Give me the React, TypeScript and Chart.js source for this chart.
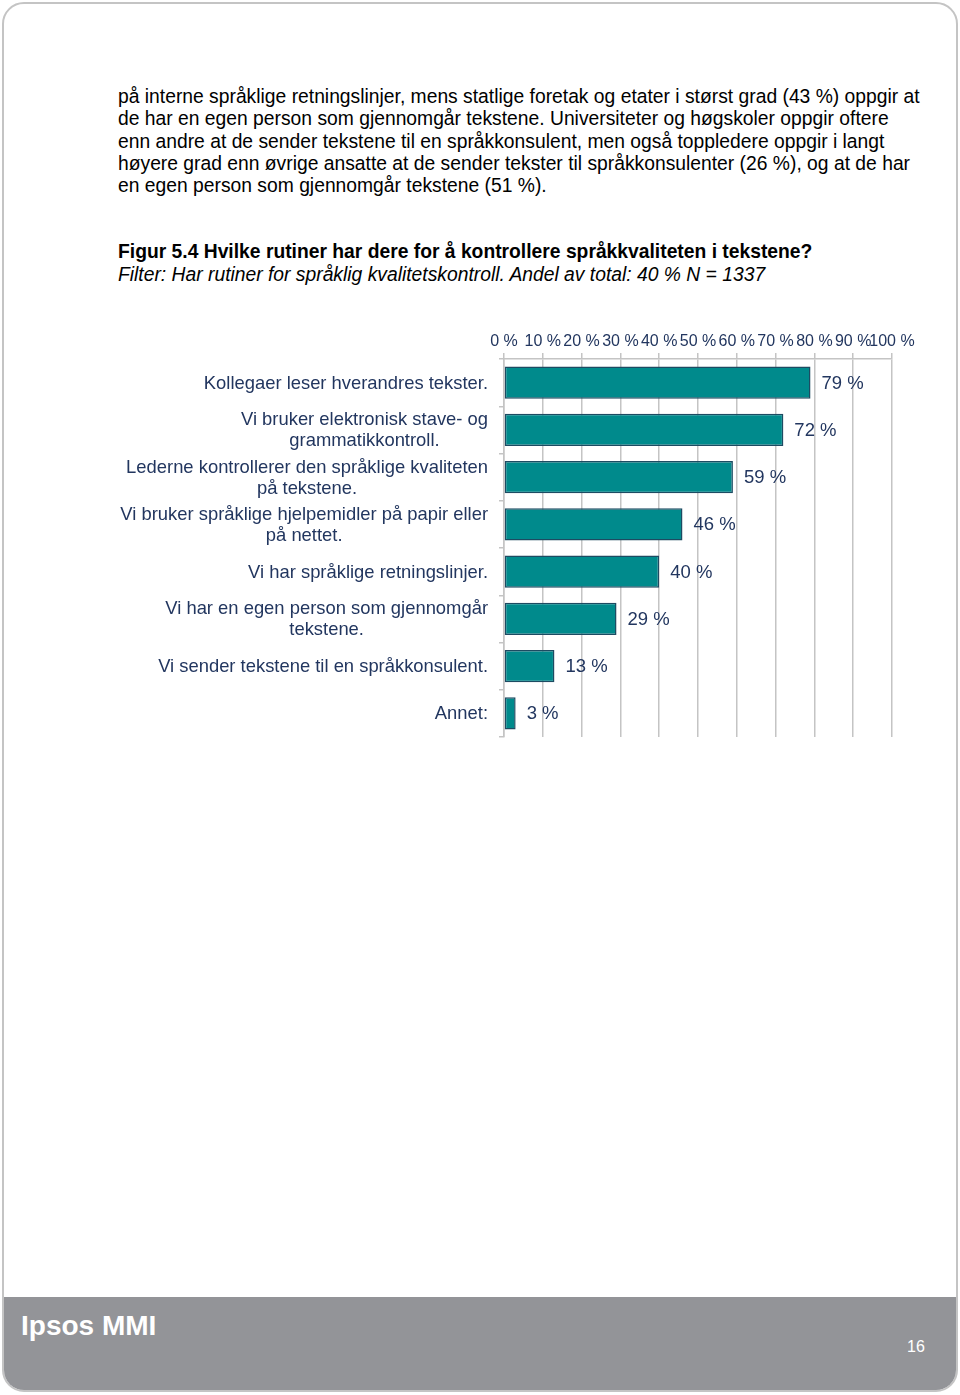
import React, { useEffect, useRef } from "react";
import { Chart, registerables } from "chart.js";

Chart.register(...registerables);

const categories: string[][] = [
  ["Kollegaer leser hverandres tekster."],
  ["Vi bruker elektronisk stave- og", "grammatikkontroll."],
  ["Lederne kontrollerer den språklige kvaliteten", "på tekstene."],
  ["Vi bruker språklige hjelpemidler på papir eller", "på nettet."],
  ["Vi har språklige retningslinjer."],
  ["Vi har en egen person som gjennomgår", "tekstene."],
  ["Vi sender tekstene til en språkkonsulent."],
  ["Annet:"],
];
const values: number[] = [79, 72, 59, 46, 40, 29, 13, 3];
const xTicks: number[] = [0, 10, 20, 30, 40, 50, 60, 70, 80, 90, 100];

const paragraphLines: string[] = [
  "på interne språklige retningslinjer, mens statlige foretak og etater i størst grad (43 %) oppgir at",
  "de har en egen person som gjennomgår tekstene. Universiteter og høgskoler oppgir oftere",
  "enn andre at de sender tekstene til en språkkonsulent, men også toppledere oppgir i langt",
  "høyere grad enn øvrige ansatte at de sender tekster til språkkonsulenter (26 %), og at de har",
  "en egen person som gjennomgår tekstene (51 %).",
];
const figTitle = "Figur 5.4 Hvilke rutiner har dere for å kontrollere språkkvaliteten i tekstene?";
const figSubtitle = "Filter: Har rutiner for språklig kvalitetskontroll. Andel av total: 40 % N = 1337";

const FONT = "'Liberation Sans', Arial, Helvetica, sans-serif";
const NAVY = "#22365f";

function BarChart() {
  const ref = useRef<HTMLCanvasElement | null>(null);
  useEffect(() => {
    if (!ref.current) return;
    const labelPlugin = {
      id: "labelsPlugin",
      afterDraw(chart: any) {
        const ctx = chart.ctx;
        const meta = chart.getDatasetMeta(0);
        const yScale = chart.scales.y;
        ctx.save();
        ctx.fillStyle = NAVY;
        ctx.textBaseline = "middle";
        // value labels
        ctx.font = `18.5px ${FONT}`;
        ctx.textAlign = "left";
        meta.data.forEach((bar: any, i: number) => {
          ctx.fillText(`${values[i]} %`, bar.x + 11, bar.y + 1);
        });
        // category labels
        ctx.font = `18.4px ${FONT}`;
        ctx.textAlign = "center";
        const rightEdge = chart.chartArea.left - 16;
        const lh = 21;
        categories.forEach((lines, i) => {
          const yc = yScale.getPixelForValue(i);
          const maxW = Math.max(...lines.map((l) => ctx.measureText(l).width));
          const cx = rightEdge - maxW / 2;
          lines.forEach((l, j) => {
            ctx.fillText(l, cx, yc + (j - (lines.length - 1) / 2) * lh + 1);
          });
        });
        ctx.restore();
      },
    };
    const chart = new Chart(ref.current, {
      type: "bar",
      data: {
        labels: categories.map((c) => c.join(" ")),
        datasets: [
          {
            data: values,
            backgroundColor: "#008a8c",
            borderColor: "#1d4b62",
            borderWidth: 1.5,
            borderSkipped: false,
            categoryPercentage: 1,
            barPercentage: 0.68,
          },
        ],
      },
      options: {
        indexAxis: "y",
        animation: false,
        responsive: false,
        maintainAspectRatio: false,
        layout: { padding: { left: 0, right: 68, top: 0, bottom: 3 } },
        plugins: { legend: { display: false }, tooltip: { enabled: false } },
        scales: {
          x: {
            position: "top",
            min: 0,
            max: 100,
            afterBuildTicks: (scale: any) => {
              scale.ticks = xTicks.map((v) => ({ value: v }));
            },
            afterFit: (scale: any) => {
              scale.height = 39;
            },
            ticks: {
              autoSkip: false,
              maxRotation: 0,
              padding: 2,
              color: NAVY,
              font: { family: FONT, size: 16 },
              callback: (v: any) => `${v} %`,
            },
            grid: { color: "#c4c4c4", lineWidth: 1.5, drawTicks: true, tickLength: 6 },
            border: { display: true, color: "#c4c4c4", width: 1.5 },
          },
          y: {
            afterFit: (scale: any) => {
              scale.width = 504;
            },
            ticks: { display: false },
            grid: { drawOnChartArea: false, drawTicks: true, tickLength: 5, color: "#c4c4c4", lineWidth: 1.5 },
            border: { display: true, color: "#c4c4c4", width: 1.5 },
          },
        },
      },
      plugins: [labelPlugin],
    } as any);
    return () => chart.destroy();
  }, []);
  return (
    <canvas
      ref={ref}
      width={960}
      height={420}
      style={{ position: "absolute", left: 0, top: 320, width: 960, height: 420 }}
    />
  );
}

export default function App() {
  return (
    <div style={{ position: "absolute", left: 0, top: 0, width: 960, height: 1395, background: "#fff", fontFamily: FONT }}>
      <div
        style={{
          position: "absolute",
          left: 2,
          top: 2,
          width: 956,
          height: 1390,
          boxSizing: "border-box",
          border: "2px solid #c4c4c4",
          borderRadius: 22,
          overflow: "hidden",
        }}
      >
        <div
          style={{
            position: "absolute",
            left: 0,
            right: 0,
            top: 1293,
            bottom: 0,
            background: "#939498",
          }}
        />
      </div>
      <div style={{ position: "absolute", left: 118, top: 86, color: "#000", fontSize: 19.3, lineHeight: "22.3px", whiteSpace: "nowrap" }}>
        {paragraphLines.map((l, i) => (
          <div key={i}>{l}</div>
        ))}
      </div>
      <div style={{ position: "absolute", left: 118, top: 241, color: "#000", fontSize: 19.3, fontWeight: "bold", whiteSpace: "nowrap", lineHeight: "22px" }}>
        {figTitle}
      </div>
      <div style={{ position: "absolute", left: 118, top: 264, color: "#000", fontSize: 19.3, fontStyle: "italic", whiteSpace: "nowrap", lineHeight: "22px" }}>
        {figSubtitle}
      </div>
      <BarChart />
      <div style={{ position: "absolute", left: 21, top: 1309, color: "#fff", fontSize: 28, fontWeight: "bold", lineHeight: "34px", whiteSpace: "nowrap" }}>
        Ipsos MMI
      </div>
      <div style={{ position: "absolute", left: 907, top: 1337, color: "#fff", fontSize: 16, lineHeight: "19px" }}>16</div>
    </div>
  );
}
